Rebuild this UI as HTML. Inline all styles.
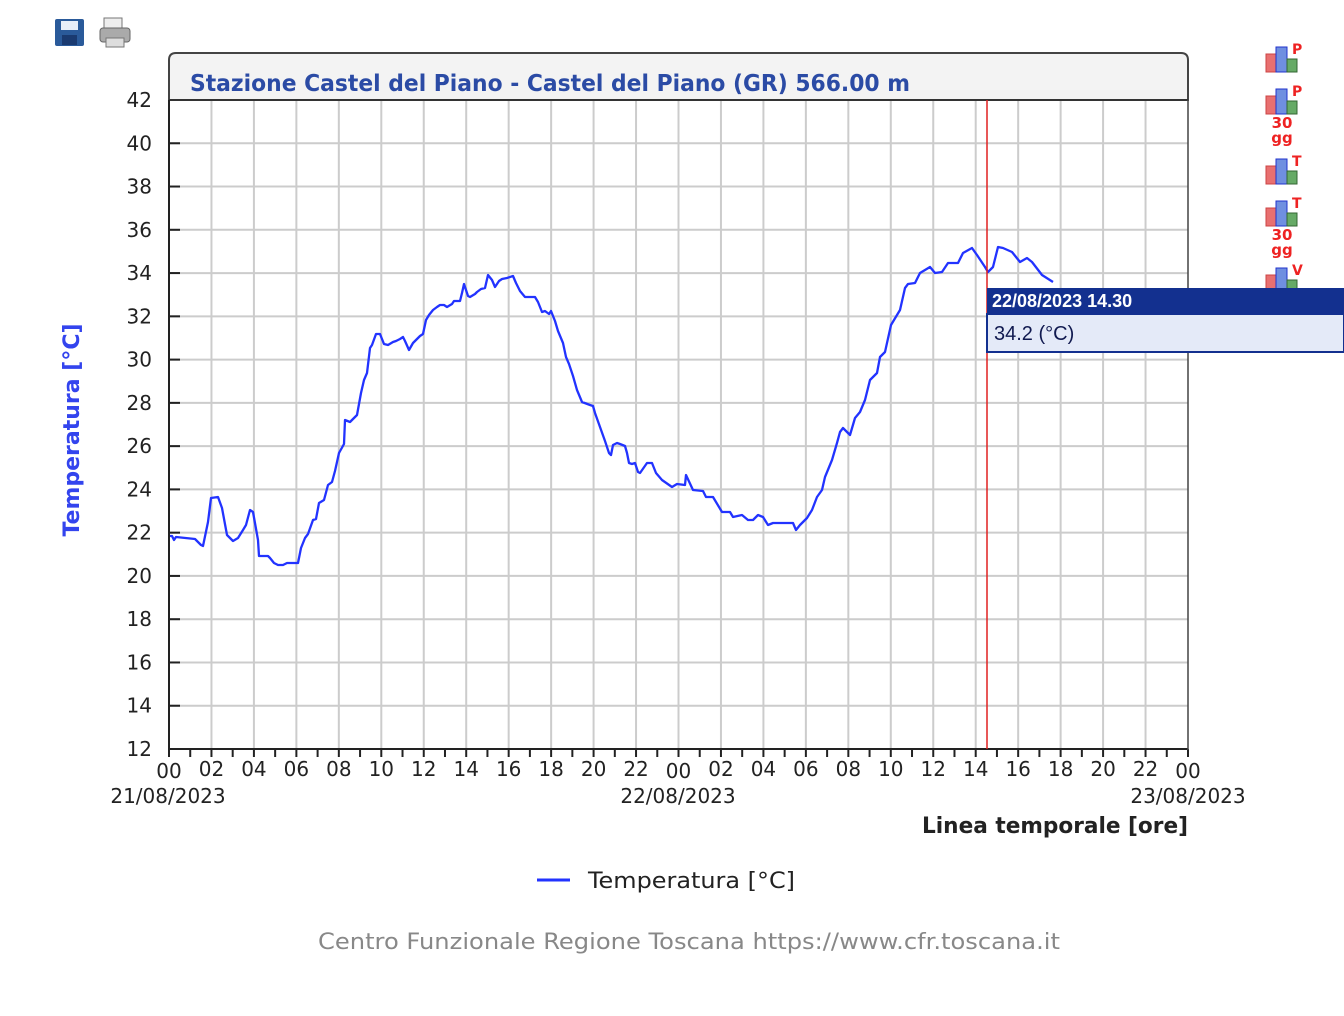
<!DOCTYPE html>
<html><head><meta charset="utf-8"><style>
body{margin:0;background:#fff;width:1344px;height:1016px;overflow:hidden;position:relative;font-family:"DejaVu Sans","Liberation Sans",sans-serif}
</style></head><body>
<svg width="1344" height="1016" viewBox="0 0 1344 1016" style="position:absolute;left:0;top:0" font-family="DejaVu Sans, Liberation Sans, sans-serif">
<rect x="55" y="19" width="29" height="27" rx="2" fill="#2a5a9a"/>
<rect x="61" y="21" width="17" height="9" fill="#e8eef8"/>
<rect x="62" y="35" width="15" height="10" fill="#1a3a70"/>
<rect x="104" y="18" width="18" height="12" fill="#eee" stroke="#777"/>
<rect x="100" y="28" width="30" height="14" rx="3" fill="#aaa" stroke="#666"/>
<rect x="106" y="38" width="18" height="9" fill="#ddd" stroke="#777"/>
<path d="M169,100 V60 Q169,53 176,53 H1181 Q1188,53 1188,60 V100 Z" fill="#f3f3f3" stroke="#444" stroke-width="2"/>
<text x="190" y="91" font-size="23" font-weight="bold" fill="#2b4ba5" textLength="720" lengthAdjust="spacingAndGlyphs">Stazione Castel del Piano - Castel del Piano (GR) 566.00 m</text>
<rect x="169" y="100" width="1019" height="649" fill="#fff"/>
<g stroke="#cccccc" stroke-width="2" id="grid"></g>
<g id="ticks" stroke="#222" stroke-width="2"></g>
<line x1="169" y1="100" x2="1188" y2="100" stroke="#333" stroke-width="2"/>
<line x1="169" y1="100" x2="169" y2="750" stroke="#222" stroke-width="2"/>
<line x1="169" y1="749" x2="1188" y2="749" stroke="#222" stroke-width="2"/>
<line x1="1188" y1="100" x2="1188" y2="750" stroke="#444" stroke-width="1.5"/>
<polyline fill="none" stroke="#2233ff" stroke-width="2.3" stroke-linejoin="round" points="170,536 172,536 174,540 176,537 195,539 201,545 203,546 208,522 211,498 218,497 222,508 227,535 233,541 238,538 243,530 246,525 250,510 253,512 258,540 259,556 268,556 270,558 274,563 278,565 283,565 287,563 298,563 301,548 305,538 308,534 313,520 316,519 319,503 324,500 328,485 332,482 335,471 339,453 344,444 345,420 350,422 354,418 357,415 361,393 364,380 367,373 370,348 372,345 376,334 380,334 384,344 388,345 393,342 396,341 400,339 403,337 405,341 409,350 413,343 420,336 423,334 426,320 429,315 433,310 437,307 440,305 444,305 447,307 452,304 454,301 460,301 462,293 464,284 468,296 470,297 475,294 477,292 481,289 485,288 488,275 492,280 495,287 499,281 502,279 507,278 513,276 516,283 520,291 525,297 535,297 538,302 542,312 545,311 549,314 551,311 555,321 558,331 563,343 566,357 569,364 573,376 577,390 582,402 590,405 593,406 595,413 600,427 605,441 609,453 611,455 613,445 617,443 620,444 625,446 627,453 629,463 632,464 635,463 638,472 640,473 647,463 652,463 656,473 662,480 672,487 677,484 685,485 686,475 693,490 703,491 706,497 713,497 722,512 730,512 733,517 742,515 748,520 753,520 758,515 763,517 768,525 773,523 793,523 796,530 800,525 807,518 812,510 817,497 822,490 825,477 832,460 837,443 840,432 843,428 850,435 855,418 860,412 865,400 870,380 877,373 880,357 885,352 891,325 897,315 900,310 905,288 908,284 915,283 920,273 925,270 930,267 935,273 942,272 948,263 958,263 963,253 972,248 977,255 985,267 988,272 993,267 998,247 1003,248 1012,252 1020,262 1027,258 1032,262 1042,275 1053,282"/>
<line x1="987" y1="100" x2="987" y2="749" stroke="#e02020" stroke-width="1.5"/>
<g id="ylab" font-size="20" fill="#222" text-anchor="end"></g>
<g id="xlab" font-size="20" fill="#222" text-anchor="middle"></g>
<text x="168" y="803" font-size="20" fill="#222" text-anchor="middle">21/08/2023</text>
<text x="678" y="803" font-size="20" fill="#222" text-anchor="middle">22/08/2023</text>
<text x="1188" y="803" font-size="20" fill="#222" text-anchor="middle">23/08/2023</text>
<text x="922" y="833" font-size="22" font-weight="bold" fill="#222" textLength="266" lengthAdjust="spacingAndGlyphs">Linea temporale [ore]</text>
<text transform="translate(79,430) rotate(-90)" font-size="22" font-weight="bold" fill="#3344ee" text-anchor="middle">Temperatura [°C]</text>
<line x1="537" y1="880" x2="570" y2="880" stroke="#2233ff" stroke-width="3"/>
<text x="588" y="888" font-size="22" fill="#222" textLength="207" lengthAdjust="spacingAndGlyphs">Temperatura [°C]</text>
<text x="318" y="949" font-size="22" fill="#888" textLength="742" lengthAdjust="spacingAndGlyphs">Centro Funzionale Regione Toscana https://www.cfr.toscana.it</text>
<g id="icons"></g>
<rect x="987" y="288" width="357" height="26" fill="#13308f"/>
<text x="992" y="307" font-size="18" font-weight="bold" fill="#fff" font-family="Liberation Sans, sans-serif">22/08/2023 14.30</text>
<rect x="987" y="314" width="357" height="38" fill="#e4eaf8" stroke="#13308f" stroke-width="2"/>
<text x="994" y="340" font-size="20" fill="#111a50" font-family="Liberation Sans, sans-serif">34.2 (°C)</text>
</svg>
<script>
var ns="http://www.w3.org/2000/svg";
function el(p,t,a,txt){var e=document.createElementNS(ns,t);for(var k in a)e.setAttribute(k,a[k]);if(txt)e.textContent=txt;document.getElementById(p).appendChild(e);}
for(var i=0;i<=15;i++){var y=749-i*649/15;
 if(i>0&&i<15)el("grid","line",{x1:169,x2:1188,y1:y,y2:y});
 el("ticks","line",{x1:169,x2:180,y1:y,y2:y});
 el("ylab","text",{x:152,y:y+7},String(12+2*i));}
for(var h=0;h<=48;h++){var x=169+h*1019/48;
 if(h%2==0&&h>0&&h<48)el("grid","line",{x1:x,x2:x,y1:100,y2:749});
 el("ticks","line",{x1:x,x2:x,y1:749,y2:757});
 if(h%2==0){var v=h%24;el("xlab","text",{x:x,y:h%24==0?778:776},(v<10?"0":"")+v);}}
var labs=[["P",""],["P","30gg"],["T",""],["T","30gg"],["V",""]];
var ys=[44,86,156,198,265];
labs.forEach(function(l,i){var y=ys[i];
 el("icons","rect",{x:1266,y:y+10,width:10,height:18,fill:"#e87070",stroke:"#c44"});
 el("icons","rect",{x:1276,y:y+3,width:11,height:25,fill:"#6f8fe0",stroke:"#23c"});
 el("icons","rect",{x:1287,y:y+15,width:10,height:13,fill:"#6a6",stroke:"#363"});
 el("icons","text",{x:1292,y:y+10,"font-size":14,"font-weight":"bold",fill:"#e22"},l[0]);
 if(l[1]){el("icons","text",{x:1282,y:y+42,"font-size":15,"font-weight":"bold",fill:"#e22","text-anchor":"middle"},"30");
 el("icons","text",{x:1282,y:y+57,"font-size":15,"font-weight":"bold",fill:"#e22","text-anchor":"middle"},"gg");}});
</script>
</body></html>
